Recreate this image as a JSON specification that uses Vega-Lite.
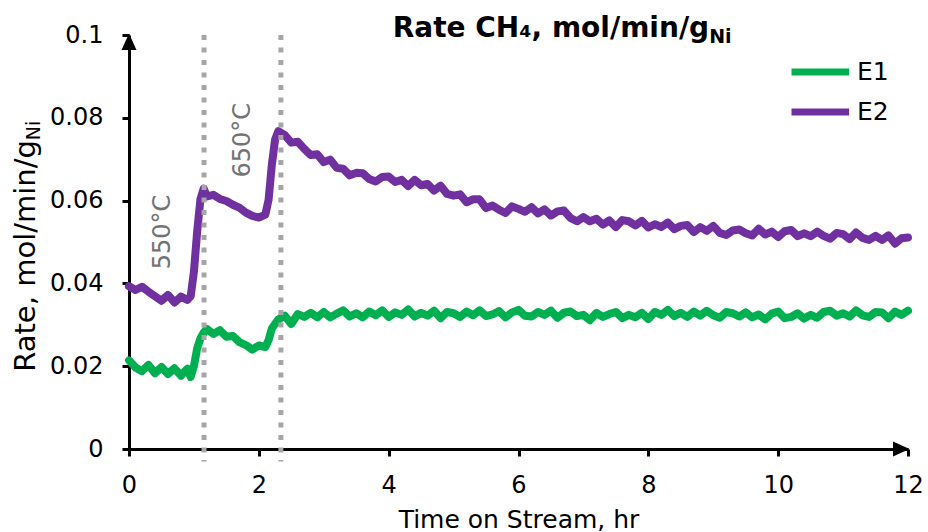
{
  "$schema": "https://vega.github.io/schema/vega-lite/v6.json",
  "width": 779,
  "height": 414,
  "autosize": {"type": "none"},
  "padding": {"left": 129, "top": 35, "right": 20, "bottom": 83},
  "background": "white",
  "config": {"view": {"stroke": null}, "font": "DejaVu Sans"},
  "datasets": {
    "rate": [
      {"time":0,"series":"E1","rate":0.0214},{"time":0.1,"series":"E1","rate":0.0197},{"time":0.2,"series":"E1","rate":0.0188},{"time":0.3,"series":"E1","rate":0.0203},{"time":0.4,"series":"E1","rate":0.0183},{"time":0.5,"series":"E1","rate":0.0198},{"time":0.6,"series":"E1","rate":0.0181},{"time":0.7,"series":"E1","rate":0.0195},{"time":0.8,"series":"E1","rate":0.0177},{"time":0.9,"series":"E1","rate":0.0194},{"time":0.95,"series":"E1","rate":0.0174},{"time":1.0,"series":"E1","rate":0.0200},{"time":1.05,"series":"E1","rate":0.0243},{"time":1.1,"series":"E1","rate":0.0267},{"time":1.15,"series":"E1","rate":0.0281},{"time":1.2,"series":"E1","rate":0.0290},{"time":1.3,"series":"E1","rate":0.0278},{"time":1.4,"series":"E1","rate":0.0287},{"time":1.5,"series":"E1","rate":0.0271},{"time":1.6,"series":"E1","rate":0.0273},{"time":1.7,"series":"E1","rate":0.0258},{"time":1.8,"series":"E1","rate":0.0251},{"time":1.9,"series":"E1","rate":0.0240},{"time":2.0,"series":"E1","rate":0.0250},{"time":2.1,"series":"E1","rate":0.0246},{"time":2.15,"series":"E1","rate":0.0263},{"time":2.2,"series":"E1","rate":0.0291},{"time":2.3,"series":"E1","rate":0.0313},{"time":2.4,"series":"E1","rate":0.0322},
      {"time":2.5,"series":"E1","rate":0.0302},{"time":2.6,"series":"E1","rate":0.0326},{"time":2.7,"series":"E1","rate":0.0319},{"time":2.8,"series":"E1","rate":0.0329},{"time":2.9,"series":"E1","rate":0.0318},{"time":3.0,"series":"E1","rate":0.0331},{"time":3.1,"series":"E1","rate":0.0318},{"time":3.2,"series":"E1","rate":0.0327},{"time":3.3,"series":"E1","rate":0.0335},{"time":3.4,"series":"E1","rate":0.0320},{"time":3.5,"series":"E1","rate":0.0328},{"time":3.6,"series":"E1","rate":0.0318},{"time":3.7,"series":"E1","rate":0.0332},{"time":3.8,"series":"E1","rate":0.0323},{"time":3.9,"series":"E1","rate":0.0335},{"time":4.0,"series":"E1","rate":0.0319},{"time":4.1,"series":"E1","rate":0.0330},{"time":4.2,"series":"E1","rate":0.0324},{"time":4.3,"series":"E1","rate":0.0337},{"time":4.4,"series":"E1","rate":0.0320},{"time":4.5,"series":"E1","rate":0.0329},{"time":4.6,"series":"E1","rate":0.0322},{"time":4.7,"series":"E1","rate":0.0334},{"time":4.8,"series":"E1","rate":0.0316},{"time":4.9,"series":"E1","rate":0.0331},{"time":5.0,"series":"E1","rate":0.0328},{"time":5.1,"series":"E1","rate":0.0319},{"time":5.2,"series":"E1","rate":0.0332},{"time":5.3,"series":"E1","rate":0.0323},{"time":5.4,"series":"E1","rate":0.0335},{"time":5.5,"series":"E1","rate":0.0321},{"time":5.6,"series":"E1","rate":0.0325},{"time":5.7,"series":"E1","rate":0.0333},{"time":5.8,"series":"E1","rate":0.0318},{"time":5.9,"series":"E1","rate":0.0330},{"time":6.0,"series":"E1","rate":0.0336},{"time":6.1,"series":"E1","rate":0.0322},{"time":6.2,"series":"E1","rate":0.0320},{"time":6.3,"series":"E1","rate":0.0331},{"time":6.4,"series":"E1","rate":0.0324},{"time":6.5,"series":"E1","rate":0.0334},{"time":6.6,"series":"E1","rate":0.0317},{"time":6.7,"series":"E1","rate":0.0329},{"time":6.8,"series":"E1","rate":0.0332},{"time":6.9,"series":"E1","rate":0.0321},{"time":7.0,"series":"E1","rate":0.0324},{"time":7.1,"series":"E1","rate":0.0311},{"time":7.2,"series":"E1","rate":0.0329},{"time":7.3,"series":"E1","rate":0.0319},{"time":7.4,"series":"E1","rate":0.0326},{"time":7.5,"series":"E1","rate":0.0331},{"time":7.6,"series":"E1","rate":0.0316},{"time":7.7,"series":"E1","rate":0.0324},{"time":7.8,"series":"E1","rate":0.0318},{"time":7.9,"series":"E1","rate":0.0329},{"time":8.0,"series":"E1","rate":0.0314},{"time":8.1,"series":"E1","rate":0.0331},{"time":8.2,"series":"E1","rate":0.0324},{"time":8.3,"series":"E1","rate":0.0336},{"time":8.4,"series":"E1","rate":0.0321},{"time":8.5,"series":"E1","rate":0.0329},{"time":8.6,"series":"E1","rate":0.0319},{"time":8.7,"series":"E1","rate":0.0332},{"time":8.8,"series":"E1","rate":0.0322},{"time":8.9,"series":"E1","rate":0.0334},{"time":9.0,"series":"E1","rate":0.0323},{"time":9.1,"series":"E1","rate":0.0317},{"time":9.2,"series":"E1","rate":0.0331},{"time":9.3,"series":"E1","rate":0.0328},{"time":9.4,"series":"E1","rate":0.0320},{"time":9.5,"series":"E1","rate":0.0330},{"time":9.6,"series":"E1","rate":0.0318},{"time":9.7,"series":"E1","rate":0.0325},{"time":9.8,"series":"E1","rate":0.0313},{"time":9.9,"series":"E1","rate":0.0327},{"time":10.0,"series":"E1","rate":0.0332},{"time":10.1,"series":"E1","rate":0.0316},{"time":10.2,"series":"E1","rate":0.0319},{"time":10.3,"series":"E1","rate":0.0328},{"time":10.4,"series":"E1","rate":0.0315},{"time":10.5,"series":"E1","rate":0.0324},{"time":10.6,"series":"E1","rate":0.0317},{"time":10.7,"series":"E1","rate":0.0331},{"time":10.8,"series":"E1","rate":0.0334},{"time":10.9,"series":"E1","rate":0.0322},{"time":11.0,"series":"E1","rate":0.0328},{"time":11.1,"series":"E1","rate":0.0320},{"time":11.2,"series":"E1","rate":0.0335},{"time":11.3,"series":"E1","rate":0.0323},{"time":11.4,"series":"E1","rate":0.0319},{"time":11.5,"series":"E1","rate":0.0331},{"time":11.6,"series":"E1","rate":0.0330},{"time":11.7,"series":"E1","rate":0.0316},{"time":11.8,"series":"E1","rate":0.0332},{"time":11.9,"series":"E1","rate":0.0324},{"time":12.0,"series":"E1","rate":0.0334},
      {"time":0,"series":"E2","rate":0.0393},{"time":0.1,"series":"E2","rate":0.0384},{"time":0.2,"series":"E2","rate":0.0392},{"time":0.3,"series":"E2","rate":0.0380},{"time":0.4,"series":"E2","rate":0.0369},{"time":0.5,"series":"E2","rate":0.0358},{"time":0.6,"series":"E2","rate":0.0372},{"time":0.7,"series":"E2","rate":0.0354},{"time":0.8,"series":"E2","rate":0.0368},{"time":0.9,"series":"E2","rate":0.0360},{"time":0.95,"series":"E2","rate":0.0369},{"time":1.0,"series":"E2","rate":0.0428},{"time":1.05,"series":"E2","rate":0.0525},{"time":1.1,"series":"E2","rate":0.0603},{"time":1.15,"series":"E2","rate":0.0629},{"time":1.2,"series":"E2","rate":0.0610},{"time":1.3,"series":"E2","rate":0.0614},{"time":1.4,"series":"E2","rate":0.0604},{"time":1.5,"series":"E2","rate":0.0599},{"time":1.6,"series":"E2","rate":0.0590},{"time":1.7,"series":"E2","rate":0.0583},{"time":1.8,"series":"E2","rate":0.0571},{"time":1.9,"series":"E2","rate":0.0563},{"time":2.0,"series":"E2","rate":0.0559},{"time":2.1,"series":"E2","rate":0.0566},{"time":2.15,"series":"E2","rate":0.0602},{"time":2.2,"series":"E2","rate":0.0686},{"time":2.25,"series":"E2","rate":0.0747},{"time":2.3,"series":"E2","rate":0.0768},
      {"time":2.4,"series":"E2","rate":0.0758},{"time":2.5,"series":"E2","rate":0.0740},{"time":2.6,"series":"E2","rate":0.0742},{"time":2.7,"series":"E2","rate":0.0725},{"time":2.8,"series":"E2","rate":0.0710},{"time":2.9,"series":"E2","rate":0.0712},{"time":3.0,"series":"E2","rate":0.0693},{"time":3.1,"series":"E2","rate":0.0699},{"time":3.2,"series":"E2","rate":0.0679},{"time":3.3,"series":"E2","rate":0.0677},{"time":3.4,"series":"E2","rate":0.0661},{"time":3.5,"series":"E2","rate":0.0667},{"time":3.6,"series":"E2","rate":0.0666},{"time":3.7,"series":"E2","rate":0.0652},{"time":3.8,"series":"E2","rate":0.0646},{"time":3.9,"series":"E2","rate":0.0657},{"time":4.0,"series":"E2","rate":0.0658},{"time":4.1,"series":"E2","rate":0.0645},{"time":4.2,"series":"E2","rate":0.0650},{"time":4.3,"series":"E2","rate":0.0635},{"time":4.4,"series":"E2","rate":0.0650},{"time":4.5,"series":"E2","rate":0.0637},{"time":4.6,"series":"E2","rate":0.0640},{"time":4.7,"series":"E2","rate":0.0624},{"time":4.8,"series":"E2","rate":0.0636},{"time":4.9,"series":"E2","rate":0.0616},{"time":5.0,"series":"E2","rate":0.0612},{"time":5.1,"series":"E2","rate":0.0615},{"time":5.2,"series":"E2","rate":0.0596},{"time":5.3,"series":"E2","rate":0.0603},{"time":5.4,"series":"E2","rate":0.0603},{"time":5.5,"series":"E2","rate":0.0582},{"time":5.6,"series":"E2","rate":0.0588},{"time":5.7,"series":"E2","rate":0.0578},{"time":5.8,"series":"E2","rate":0.0570},{"time":5.9,"series":"E2","rate":0.0586},{"time":6.0,"series":"E2","rate":0.0580},{"time":6.1,"series":"E2","rate":0.0573},{"time":6.2,"series":"E2","rate":0.0584},{"time":6.3,"series":"E2","rate":0.0569},{"time":6.4,"series":"E2","rate":0.0579},{"time":6.5,"series":"E2","rate":0.0564},{"time":6.6,"series":"E2","rate":0.0574},{"time":6.7,"series":"E2","rate":0.0576},{"time":6.8,"series":"E2","rate":0.0558},{"time":6.9,"series":"E2","rate":0.0550},{"time":7.0,"series":"E2","rate":0.0560},{"time":7.1,"series":"E2","rate":0.0550},{"time":7.2,"series":"E2","rate":0.0556},{"time":7.3,"series":"E2","rate":0.0542},{"time":7.4,"series":"E2","rate":0.0552},{"time":7.5,"series":"E2","rate":0.0536},{"time":7.6,"series":"E2","rate":0.0553},{"time":7.7,"series":"E2","rate":0.0550},{"time":7.8,"series":"E2","rate":0.0540},{"time":7.9,"series":"E2","rate":0.0551},{"time":8.0,"series":"E2","rate":0.0535},{"time":8.1,"series":"E2","rate":0.0543},{"time":8.2,"series":"E2","rate":0.0536},{"time":8.3,"series":"E2","rate":0.0547},{"time":8.4,"series":"E2","rate":0.0531},{"time":8.5,"series":"E2","rate":0.0539},{"time":8.6,"series":"E2","rate":0.0541},{"time":8.7,"series":"E2","rate":0.0524},{"time":8.8,"series":"E2","rate":0.0536},{"time":8.9,"series":"E2","rate":0.0527},{"time":9.0,"series":"E2","rate":0.0539},{"time":9.1,"series":"E2","rate":0.0522},{"time":9.2,"series":"E2","rate":0.0517},{"time":9.3,"series":"E2","rate":0.0528},{"time":9.4,"series":"E2","rate":0.0530},{"time":9.5,"series":"E2","rate":0.0521},{"time":9.6,"series":"E2","rate":0.0516},{"time":9.7,"series":"E2","rate":0.0532},{"time":9.8,"series":"E2","rate":0.0518},{"time":9.9,"series":"E2","rate":0.0525},{"time":10.0,"series":"E2","rate":0.0512},{"time":10.1,"series":"E2","rate":0.0526},{"time":10.2,"series":"E2","rate":0.0529},{"time":10.3,"series":"E2","rate":0.0514},{"time":10.4,"series":"E2","rate":0.0521},{"time":10.5,"series":"E2","rate":0.0514},{"time":10.6,"series":"E2","rate":0.0525},{"time":10.7,"series":"E2","rate":0.0515},{"time":10.8,"series":"E2","rate":0.0508},{"time":10.9,"series":"E2","rate":0.0522},{"time":11.0,"series":"E2","rate":0.0519},{"time":11.1,"series":"E2","rate":0.0507},{"time":11.2,"series":"E2","rate":0.0523},{"time":11.3,"series":"E2","rate":0.0510},{"time":11.4,"series":"E2","rate":0.0505},{"time":11.5,"series":"E2","rate":0.0515},{"time":11.6,"series":"E2","rate":0.0505},{"time":11.7,"series":"E2","rate":0.0516},{"time":11.8,"series":"E2","rate":0.0496},{"time":11.9,"series":"E2","rate":0.0509},{"time":12.0,"series":"E2","rate":0.0511}
    ],
    "steps": [{"time": 1.156}, {"time": 2.34}]
  },
  "layer": [
    {
      "data": {"name": "rate"},
      "mark": {"type": "line", "strokeWidth": 8, "strokeCap": "round", "strokeJoin": "round"},
      "encoding": {
        "x": {
          "field": "time", "type": "quantitative",
          "scale": {"domain": [0, 12], "nice": false, "zero": false},
          "axis": {
            "values": [0, 2, 4, 6, 8, 10, 12],
            "format": "~g",
            "title": "Time on Stream, hr",
            "titleFont": "DejaVu Sans", "titleFontSize": 25, "titleFontWeight": "normal", "titleColor": "black",
            "titleY": 78, "titleBaseline": "alphabetic",
            "labelFont": "DejaVu Sans", "labelFontSize": 24, "labelColor": "black", "labelPadding": 17, "labelFlush": false,
            "tickSize": 7, "tickWidth": 3, "tickColor": "black",
            "domainColor": "black", "domainWidth": 3, "grid": false
          }
        },
        "y": {
          "field": "rate", "type": "quantitative",
          "scale": {"domain": [0, 0.1], "nice": false},
          "axis": {
            "values": [0, 0.02, 0.04, 0.06, 0.08, 0.1],
            "format": "~g",
            "title": null,
            "labelFont": "DejaVu Sans", "labelFontSize": 24, "labelColor": "black", "labelPadding": 19,
            "tickSize": 7, "tickWidth": 3, "tickColor": "black",
            "domainColor": "black", "domainWidth": 3, "grid": false
          }
        },
        "color": {
          "field": "series", "type": "nominal",
          "scale": {"domain": ["E1", "E2"], "range": ["#00B050", "#7030A0"]},
          "legend": {
            "orient": "none", "legendX": 659, "legendY": 17,
            "title": null, "symbolType": "M-1,0H2.2", "symbolSize": 1296, "symbolStrokeWidth": 7,
            "labelFont": "DejaVu Sans", "labelFontSize": 25, "labelColor": "black", "labelOffset": 26,
            "clipHeight": 40, "rowPadding": 0
          }
        }
      }
    },
    {
      "data": {"name": "steps"},
      "mark": {"type": "rule", "color": "#A6A6A6", "strokeWidth": 5, "strokeDash": [5, 7.5]},
      "encoding": {
        "x": {"field": "time", "type": "quantitative"},
        "y": {"datum": 0.1},
        "y2": {"datum": -0.003}
      }
    },
    {
      "data": {"values": [{"label": "550°C"}]},
      "mark": {"type": "text", "angle": 270, "align": "center", "baseline": "middle", "fontSize": 24, "font": "DejaVu Sans", "color": "#737373"},
      "encoding": {"x": {"datum": 0.524}, "y": {"datum": 0.0524}, "text": {"field": "label"}}
    },
    {
      "data": {"values": [{"label": "650°C"}]},
      "mark": {"type": "text", "angle": 270, "align": "center", "baseline": "middle", "fontSize": 24, "font": "DejaVu Sans", "color": "#737373"},
      "encoding": {"x": {"datum": 1.757}, "y": {"datum": 0.0746}, "text": {"field": "label"}}
    },
    {
      "data": {"values": [{"end": "y"}]},
      "mark": {"type": "point", "filled": true, "color": "black", "opacity": 1, "size": 900, "shape": "M0,-0.1L0.5,1L-0.5,1Z"},
      "encoding": {"x": {"datum": 0}, "y": {"datum": 0.1}}
    },
    {
      "data": {"values": [{"end": "x"}]},
      "mark": {"type": "point", "filled": true, "color": "black", "opacity": 1, "size": 900, "shape": "M0.1,0L-1,-0.5L-1,0.5Z"},
      "encoding": {"x": {"datum": 12}, "y": {"datum": 0}}
    },
    {
      "data": {"values": [{"label": "Rate CH₄, mol/min/g"}]},
      "mark": {"type": "text", "align": "right", "baseline": "alphabetic", "fontSize": 28, "fontWeight": "bold", "font": "DejaVu Sans", "color": "black"},
      "encoding": {"x": {"datum": 8.937}, "y": {"datum": 0.0995}, "text": {"field": "label"}}
    },
    {
      "data": {"values": [{"label": "Ni"}]},
      "mark": {"type": "text", "align": "left", "baseline": "alphabetic", "dy": 6, "fontSize": 19, "fontWeight": "bold", "font": "DejaVu Sans", "color": "black"},
      "encoding": {"x": {"datum": 8.937}, "y": {"datum": 0.0995}, "text": {"field": "label"}}
    },
    {
      "data": {"values": [{"label": "Rate, mol/min/g"}]},
      "mark": {"type": "text", "angle": 270, "align": "right", "baseline": "alphabetic", "fontSize": 29, "font": "DejaVu Sans", "color": "black"},
      "encoding": {"x": {"datum": -1.448}, "y": {"datum": 0.0746}, "text": {"field": "label"}}
    },
    {
      "data": {"values": [{"label": "Ni"}]},
      "mark": {"type": "text", "angle": 270, "align": "left", "baseline": "alphabetic", "dy": 5, "fontSize": 19, "font": "DejaVu Sans", "color": "black"},
      "encoding": {"x": {"datum": -1.448}, "y": {"datum": 0.0746}, "text": {"field": "label"}}
    }
  ]
}
